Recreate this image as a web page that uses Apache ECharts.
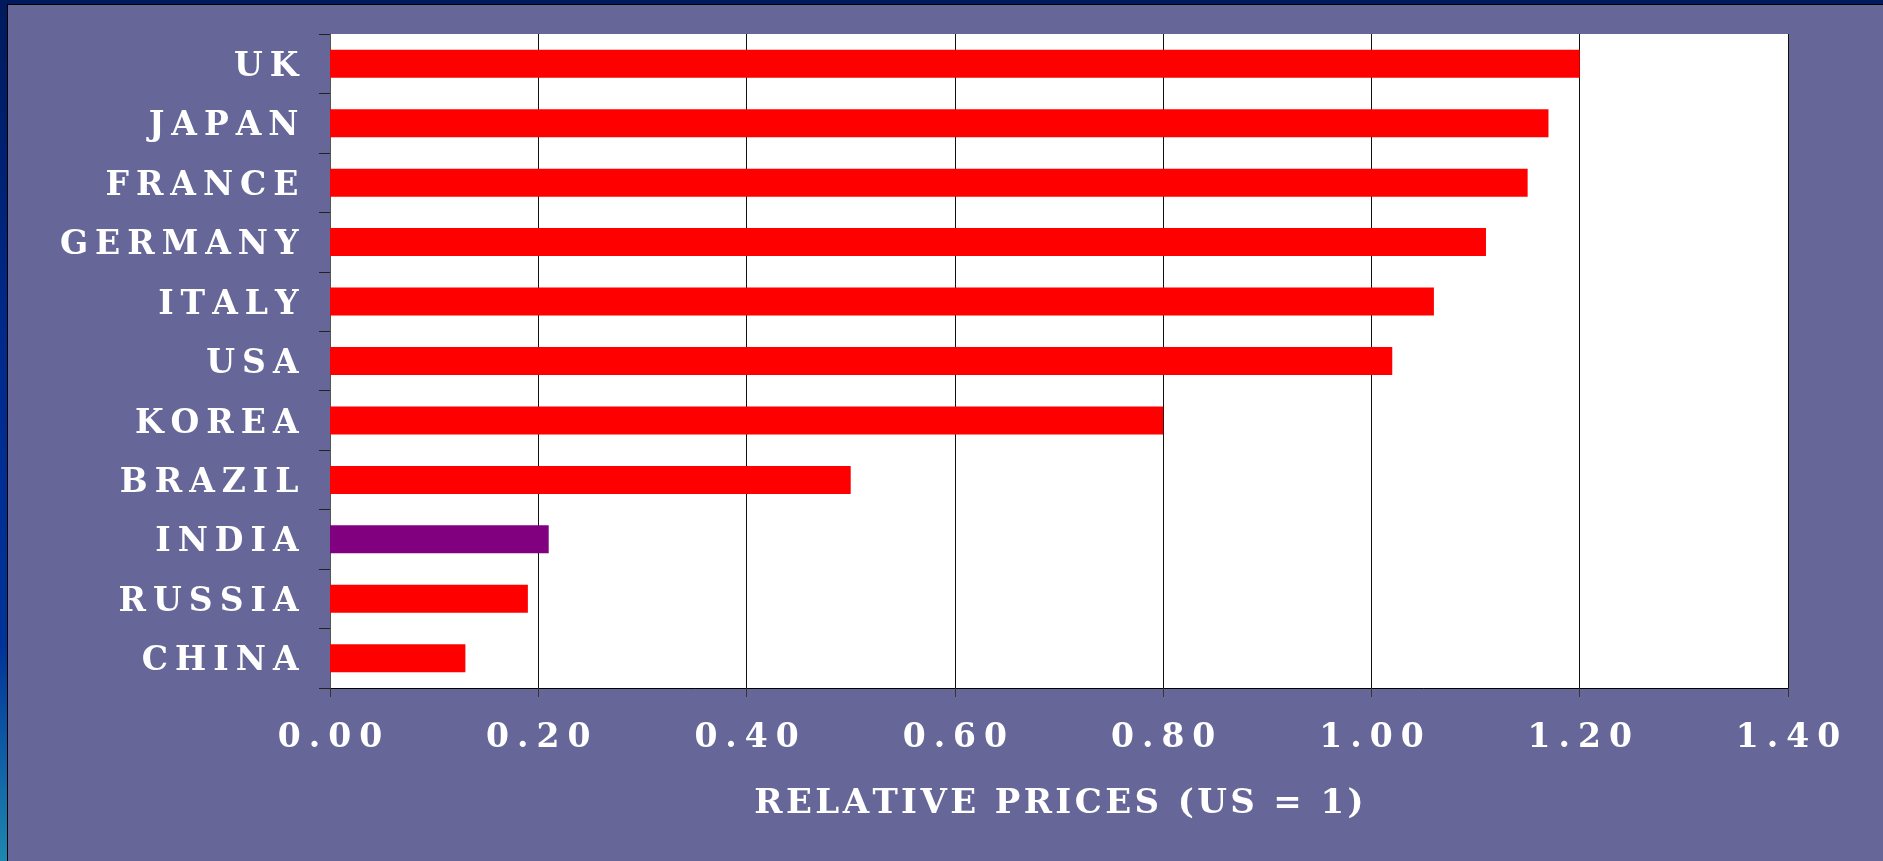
<!DOCTYPE html>
<html>
<head>
<meta charset="utf-8">
<script src="https://cdn.jsdelivr.net/npm/echarts@6/dist/echarts.min.js"></script>
<style>
  html, body { margin: 0; padding: 0; width: 1883px; height: 861px; overflow: hidden; }
  body { background: linear-gradient(to bottom, #001a5c 0%, #002a8c 40%, #003399 75%, #1e88b0 100%); position: relative; }
  #frame { position: absolute; left: 7px; top: 4px; right: 0; bottom: 0;
    background: #666699; border-left: 1px solid #000; border-top: 1px solid #000; }
  #chart { position: absolute; left: 0; top: 0; width: 1883px; height: 861px; }
</style>
</head>
<body>
<div id="frame"></div>
<div id="chart"></div>
<script>
// countries, top to bottom
var countries = ['UK', 'JAPAN', 'FRANCE', 'GERMANY', 'ITALY', 'USA', 'KOREA', 'BRAZIL', 'INDIA', 'RUSSIA', 'CHINA'];
// relative prices (US = 1)
var prices = [1.20, 1.17, 1.15, 1.11, 1.06, 1.02, 0.80, 0.50, 0.21, 0.19, 0.13];
var xTicks = [0, 0.2, 0.4, 0.6, 0.8, 1.0, 1.2, 1.4];
var axisTitle = 'RELATIVE PRICES (US = 1)';
var highlight = 'INDIA';

var FONT = 'DejaVu Serif';

// wide letter spacing like the original slide font
function spaced(text, tag){
  return text.split('').map(function(ch){ return '{' + tag + '|' + ch + '}'; }).join('');
}

var myChart = echarts.init(document.getElementById('chart'), null, {renderer: 'canvas'});

var option = {
  backgroundColor: 'transparent',
  animation: false,
  grid: {
    left: 330,
    top: 34,
    width: 1458,
    height: 654,
    show: true,
    backgroundColor: '#ffffff',
    borderWidth: 0,
    containLabel: false,
    outerBoundsMode: 'none'
  },
  xAxis: {
    type: 'value',
    min: xTicks[0],
    max: xTicks[xTicks.length - 1],
    interval: 0.2,
    name: spaced(axisTitle, 't'),
    nameLocation: 'middle',
    nameGap: 99,
    nameTextStyle: {
      color: '#fff',
      fontFamily: FONT,
      fontWeight: 'bold',
      fontSize: 34,
      rich: {
        t: { color: '#fff', fontFamily: FONT, fontWeight: 'bold', fontSize: 34, padding: [0, 1.7, 0, 1.7] }
      }
    },
    axisLine: { show: true, lineStyle: { color: '#000', width: 1 } },
    axisTick: { show: true, length: 9, lineStyle: { color: '#333' } },
    splitLine: { show: true, lineStyle: { color: '#111', width: 1 } },
    axisLabel: {
      margin: 34,
      color: '#fff',
      fontFamily: FONT,
      fontWeight: 'bold',
      fontSize: 33,
      formatter: function(v){ return spaced(v.toFixed(2), 'n'); },
      rich: {
        n: { color: '#fff', fontFamily: FONT, fontWeight: 'bold', fontSize: 33, padding: [0, 4, 0, 4] }
      }
    }
  },
  yAxis: {
    type: 'category',
    inverse: true,
    data: countries,
    axisLine: { show: true, lineStyle: { color: '#555', width: 1 } },
    axisTick: { show: true, length: 11, lineStyle: { color: '#222' } },
    splitLine: { show: false },
    axisLabel: {
      margin: 28,
      color: '#fff',
      fontFamily: FONT,
      fontWeight: 'bold',
      fontSize: 33,
      formatter: function(v){ return spaced(v, 'c'); },
      rich: {
        c: { color: '#fff', fontFamily: FONT, fontWeight: 'bold', fontSize: 33, padding: [7, 3.5, 0, 3.5] }
      }
    }
  },
  series: [{
    type: 'bar',
    barWidth: 28,
    data: prices.map(function(p, i){
      return {
        value: p,
        itemStyle: { color: countries[i] === highlight ? '#800080' : '#ff0000' }
      };
    })
  }]
};

myChart.setOption(option);
</script>
</body>
</html>
